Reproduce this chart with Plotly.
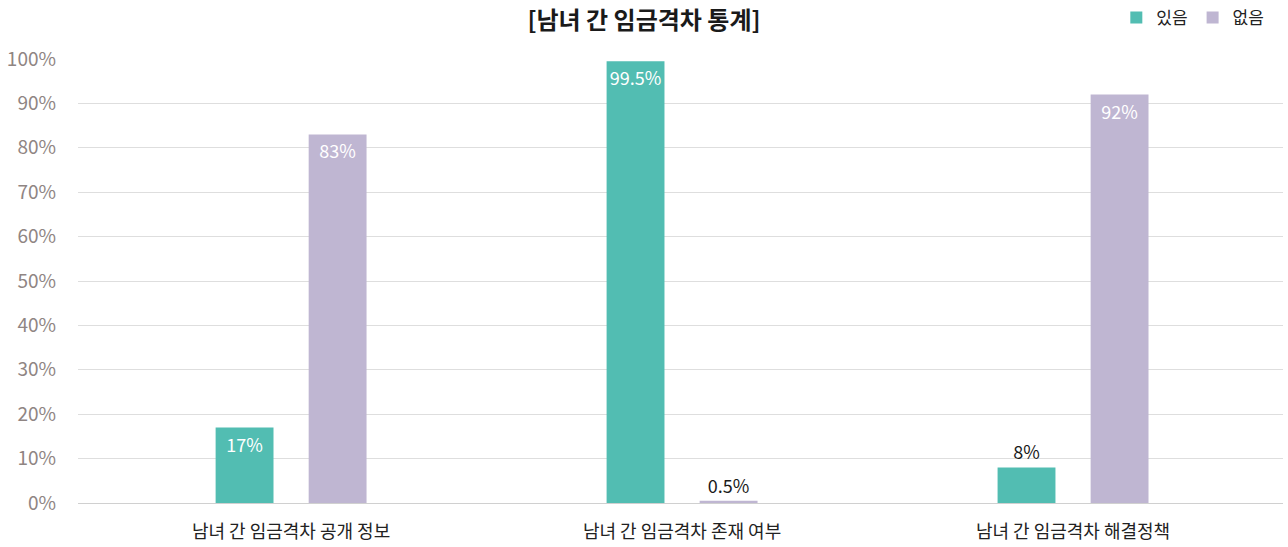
import plotly.graph_objects as go

categories = ["남녀 간 임금격차 공개 정보", "남녀 간 임금격차 존재 여부", "남녀 간 임금격차 해결정책"]
yes_values = [17, 99.5, 8]
no_values = [83, 0.5, 92]
series_names = ["있음", "없음"]
tick_values = [0, 10, 20, 30, 40, 50, 60, 70, 80, 90, 100]
tick_labels = [f"{v}%" for v in tick_values]

FONT = "Noto Sans CJK KR"
TEAL = "#52BDB2"
LILAC = "#BFB6D2"


def label_positions(values):
    return ["inside" if v >= 10 else "outside" for v in values]


def label_colors(values):
    return ["#ffffff" if v >= 10 else "#1a1a1a" for v in values]


fig = go.Figure()
for name, vals, color in [(series_names[0], yes_values, TEAL), (series_names[1], no_values, LILAC)]:
    fig.add_trace(go.Bar(
        name=name,
        x=categories,
        y=vals,
        marker=dict(color=color, line=dict(width=0)),
        text=[f"{v:g}%" for v in vals],
        textposition=label_positions(vals),
        insidetextanchor="end",
        textangle=0,
        textfont=dict(family=FONT, size=18, color=label_colors(vals)),
        constraintext="none",
        cliponaxis=False,
        hoverinfo="skip",
    ))

fig.update_layout(
    width=1288,
    height=547,
    paper_bgcolor="#ffffff",
    plot_bgcolor="#ffffff",
    margin=dict(l=78, r=5, t=59, b=44),
    barmode="group",
    bargap=0.524,
    bargroupgap=0.378,
    font=dict(family=FONT),
    title=dict(
        text="<b>[남녀 간 임금격차 통계]</b>",
        x=0.5,
        xanchor="center",
        y=0.963,
        yanchor="middle",
        font=dict(family=FONT, size=24, color="#1a1a1a"),
    ),
    legend=dict(
        orientation="h",
        x=0.9855,
        xref="container",
        xanchor="right",
        y=1.0,
        yref="container",
        yanchor="top",
        font=dict(family=FONT, size=17, color="#222222"),
        itemwidth=30,
        traceorder="normal",
        bgcolor="rgba(0,0,0,0)",
    ),
    xaxis=dict(
        range=[-0.545, 2.537],
        automargin=False,
        showgrid=False,
        showline=False,
        ticks="",
        ticklabelstandoff=16,
        tickfont=dict(family=FONT, size=18, color="#222222"),
    ),
    yaxis=dict(
        range=[0, 100],
        automargin=False,
        tickvals=tick_values,
        ticktext=tick_labels,
        showgrid=True,
        gridcolor="#dedede",
        gridwidth=1,
        zeroline=True,
        zerolinecolor="#d0d0d0",
        zerolinewidth=1,
        showline=False,
        ticks="",
        ticklabelstandoff=21,
        tickfont=dict(family=FONT, size=19, color="#8f8583"),
    ),
)

fig.write_html("out.html")
